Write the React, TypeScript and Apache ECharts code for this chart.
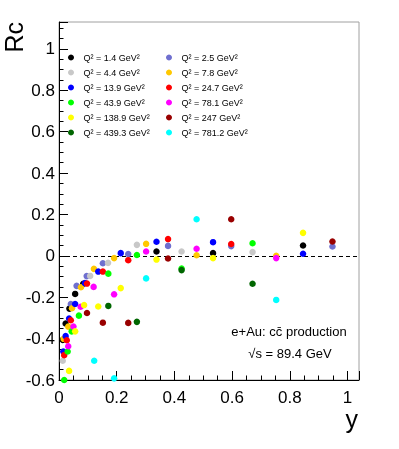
import React, { useEffect, useRef } from "react";
import * as echarts from "echarts";

const FONT = "Liberation Sans, Arial, Helvetica, sans-serif";

// Q^2 bins (GeV^2)
const q2Values = ["1.4", "2.5", "4.4", "7.8", "13.9", "24.7", "43.9", "78.1", "138.9", "247", "439.3", "781.2"];
const seriesColors = ["#000000", "#6f6fcf", "#c8c8c8", "#ffc800", "#0000ff", "#ff0000", "#00ff00", "#ff00ff", "#ffff00", "#990000", "#006600", "#00ffff"];

// [y (inelasticity), Rc]
const rc_q2_1p4 = [[0.013, -0.406], [0.023, -0.327], [0.036, -0.255], [0.056, -0.184], [0.084, -0.135], [0.338, 0.021], [0.534, 0.013], [0.846, 0.05]];
const rc_q2_2p5 = [[0.041, -0.233], [0.061, -0.145], [0.096, -0.098], [0.152, -0.036], [0.24, 0.009], [0.378, 0.048], [0.597, 0.047], [0.948, 0.045]];
const rc_q2_4p4 = [[0.013, -0.507], [0.108, -0.097], [0.17, -0.034], [0.27, 0.053], [0.425, 0.021], [0.671, 0.018]];
const rc_q2_7p8 = [[0.016, -0.401], [0.032, -0.342], [0.045, -0.253], [0.076, -0.152], [0.121, -0.063], [0.191, -0.011], [0.302, 0.058], [0.477, 0.003], [0.753, 0.0]];
const rc_q2_13p9 = [[0.015, -0.462], [0.023, -0.388], [0.035, -0.303], [0.056, -0.233], [0.09, -0.132], [0.136, -0.076], [0.214, 0.013], [0.338, 0.068], [0.534, 0.066], [0.846, 0.01]];
const rc_q2_24p7 = [[0.018, -0.48], [0.027, -0.408], [0.041, -0.311], [0.097, -0.134], [0.152, -0.076], [0.24, -0.021], [0.378, 0.081], [0.597, 0.057]];
const rc_q2_43p9 = [[0.018, -0.6], [0.03, -0.462], [0.044, -0.365], [0.069, -0.289], [0.171, -0.086], [0.27, 0.004], [0.425, -0.061], [0.671, 0.061]];
const rc_q2_78p1 = [[0.032, -0.437], [0.05, -0.342], [0.075, -0.246], [0.12, -0.15], [0.191, -0.186], [0.302, 0.021], [0.477, 0.034], [0.753, -0.011]];
const rc_q2_138p9 = [[0.035, -0.556], [0.056, -0.365], [0.087, -0.238], [0.136, -0.245], [0.214, -0.156], [0.338, -0.018], [0.534, -0.011], [0.846, 0.111]];
const rc_q2_247 = [[0.097, -0.276], [0.152, -0.323], [0.24, -0.324], [0.378, -0.013], [0.597, 0.177], [0.948, 0.069]];
const rc_q2_439p3 = [[0.171, -0.242], [0.27, -0.319], [0.425, -0.069], [0.671, -0.135]];
const rc_q2_781p2 = [[0.122, -0.507], [0.191, -0.592], [0.302, -0.109], [0.477, 0.177], [0.753, -0.213]];

const seriesData = [rc_q2_1p4, rc_q2_2p5, rc_q2_4p4, rc_q2_7p8, rc_q2_13p9, rc_q2_24p7, rc_q2_43p9, rc_q2_78p1, rc_q2_138p9, rc_q2_247, rc_q2_439p3, rc_q2_781p2];

const xTicks = { min: 0, max: 1.04, interval: 0.2 };
const yTicks = { min: -0.6, max: 1.13, interval: 0.2 };

const seriesName = (q: string) => `Q² = ${q} GeV²`;

export default function App() {
  const ref = useRef<HTMLDivElement>(null);
  useEffect(() => {
    if (!ref.current) return;
    const chart = echarts.init(ref.current, undefined, { renderer: "svg" });
    const names = q2Values.map(seriesName);
    const leftNames = names.filter((_, i) => i % 2 === 0);
    const rightNames = names.filter((_, i) => i % 2 === 1);
    const legendCommon = {
      orient: "vertical",
      top: 53,
      itemWidth: 15,
      itemHeight: 6,
      itemGap: 6,
      icon: "circle",
      padding: 0,
      selectedMode: false,
      textStyle: { fontSize: 9, lineHeight: 8, color: "#000", fontFamily: FONT },
    };
    const series: any[] = seriesData.map((d, i) => ({
      name: names[i],
      type: "scatter",
      data: d,
      symbol: "circle",
      symbolSize: 6.5,
      itemStyle: { color: seriesColors[i], opacity: 1 },
      z: 3 + i * 0.01,
    }));
    series[0].markLine = {
      silent: true,
      symbol: "none",
      label: { show: false },
      lineStyle: { color: "#000", type: [4, 3], width: 1 },
      data: [{ yAxis: 0 }],
      z: 2,
    };
    chart.setOption({
      animation: false,
      textStyle: { fontFamily: FONT },
      grid: { left: 59, right: 40, top: 22, bottom: 69, show: true, borderColor: "#a0a0a0", borderWidth: 1 },
      legend: [
        { ...legendCommon, left: 68, data: leftNames },
        { ...legendCommon, left: 166, data: rightNames },
      ],
      xAxis: {
        type: "value",
        min: xTicks.min,
        max: xTicks.max,
        interval: xTicks.interval,
        axisLine: { show: true, onZero: false, lineStyle: { color: "#000", width: 1 } },
        axisTick: { show: true, inside: true, length: 9, lineStyle: { color: "#000" } },
        minorTick: { show: true, splitNumber: 4, length: 4.5, lineStyle: { color: "#000" } },
        splitLine: { show: false },
        axisLabel: { fontSize: 17, color: "#000", margin: 9, showMaxLabel: false, fontFamily: FONT },
      },
      yAxis: {
        type: "value",
        min: yTicks.min,
        max: yTicks.max,
        interval: yTicks.interval,
        axisLine: { show: true, onZero: false, lineStyle: { color: "#000", width: 1 } },
        axisTick: { show: true, inside: true, length: 9, lineStyle: { color: "#000" } },
        minorTick: { show: true, splitNumber: 4, length: 4.5, lineStyle: { color: "#000" } },
        splitLine: { show: false },
        axisLabel: { fontSize: 17, color: "#000", margin: 4, showMaxLabel: false, fontFamily: FONT },
      },
      graphic: [
        {
          type: "text",
          x: 14,
          y: 22,
          rotation: Math.PI / 2,
          style: { text: "Rc", fontSize: 25, fill: "#000", align: "right", verticalAlign: "middle", fontFamily: FONT },
        },
        {
          type: "text",
          x: 358,
          y: 406,
          style: { text: "y", fontSize: 25, fill: "#000", align: "right", verticalAlign: "top", fontFamily: FONT },
        },
        {
          type: "text",
          x: 289,
          y: 331,
          style: { text: "e+Au: cc\u0304 production", fontSize: 13, fill: "#000", align: "center", verticalAlign: "middle", fontFamily: FONT },
        },
        {
          type: "text",
          x: 290,
          y: 353,
          style: { text: "√s = 89.4 GeV", fontSize: 13, fill: "#000", align: "center", verticalAlign: "middle", fontFamily: FONT },
        },
      ],
      series,
    });
    return () => chart.dispose();
  }, []);
  return <div ref={ref} style={{ position: "fixed", left: 0, top: 0, width: 399, height: 449 }} />;
}
